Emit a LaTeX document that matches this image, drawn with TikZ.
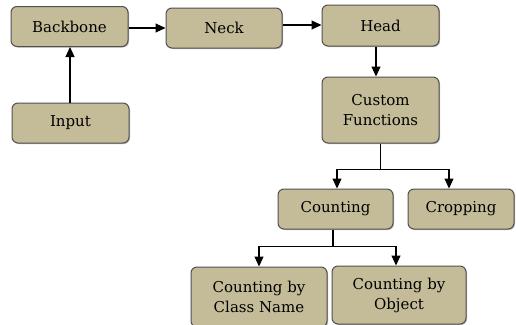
\documentclass[tikz,border=0pt]{standalone}
\usepackage{fontspec}
\setmainfont{DejaVu Serif}
\usetikzlibrary{arrows.meta,shadows}
\definecolor{boxfill}{RGB}{196,188,152}
\definecolor{boxline}{RGB}{80,80,80}
\tikzset{
  box/.style={draw=boxline, line width=1pt, fill=boxfill, rounded corners=6pt,
    align=center, inner sep=2pt, font=\fontsize{15}{20}\selectfont,
    drop shadow={shadow xshift=1pt, shadow yshift=-1pt, fill=black!45, opacity=0.6}},
  conn/.style={draw=black, line width=1.1pt, -{Triangle[length=10pt,width=9pt]}}
}
\begin{document}
\begin{tikzpicture}[x=1pt,y=1pt]
\useasboundingbox (0,0) rectangle (516,-324);
\node[box, minimum width=117pt, minimum height=40pt] (backbone) at (69.5,-26.5) {Backbone};
\node[box, minimum width=116pt, minimum height=40pt] (neck) at (224,-28) {Neck};
\node[box, minimum width=117pt, minimum height=41pt] (head) at (380.5,-25.5) {Head};
\node[box, minimum width=117pt, minimum height=40pt] (input) at (70.5,-123) {Input};
\node[box, minimum width=117pt, minimum height=66pt] (custom) at (380.5,-110) {Custom\\Functions};
\node[box, minimum width=115pt, minimum height=40pt] (counting) at (335.5,-209) {Counting};
\node[box, minimum width=106pt, minimum height=40pt] (cropping) at (461,-209) {Cropping};
\node[box, minimum width=136pt, minimum height=60pt] (cbc) at (259,-297) {Counting by\\Class Name};
\node[box, minimum width=134pt, minimum height=58pt] (cbo) at (399,-295) {Counting by\\Object};

\draw[conn] (input.north -| 70,0) -- (backbone.south -| 70,0);
\draw[conn] (backbone.east |- 0,-28) -- (neck.west |- 0,-28);
\draw[conn] (neck.east |- 0,-25) -- (head.west |- 0,-25);
\draw[conn] (head.south -| 376,0) -- (custom.north -| 376,0);
\draw[conn] (custom.south) -- ++(0,-26) -| ([xshift=1.5pt]counting.north);
\draw[conn] (custom.south) -- ++(0,-26) -| ([xshift=-12pt]cropping.north);
\draw[conn] ([xshift=-2.5pt]counting.south) -- ++(0,-17) -| (cbc.north);
\draw[conn] ([xshift=-2.5pt]counting.south) -- ++(0,-17) -| ([xshift=-3pt]cbo.north);
\end{tikzpicture}
\end{document}
